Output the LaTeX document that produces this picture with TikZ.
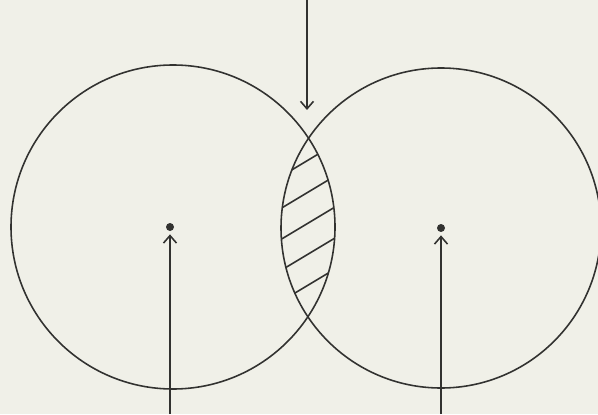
\documentclass[tikz,border=0pt]{standalone}
\usepackage{tikz}
\usetikzlibrary{arrows.meta, positioning, calc}
\definecolor{paper}{RGB}{240, 240, 232}
\definecolor{ink}{RGB}{50, 50, 48}

\begin{document}
\begin{tikzpicture}[
        ring/.style={draw=ink, line width=0.9pt, circle, inner sep=0pt},
        centre/.style={fill=ink, circle, inner sep=0pt, minimum size=1.6mm},
        pointer/.style={draw=ink, line width=0.9pt, -{Straight Barb[length=1.5mm, width=2.6mm]}},
        hatch/.style={draw=ink, line width=0.9pt},
    ]
        \fill[paper] (0,0) rectangle (11.96,8.28);
        \useasboundingbox (0,0) rectangle (11.96,8.28);

        % two overlapping circles
        \node[ring, minimum size=6.48cm] (left) at (3.46,3.74) {};
        \node[ring, minimum size=6.40cm] (right) at (8.82,3.72) {};

        % hatching of the common part
        \begin{scope}
            \clip (3.46,3.74) circle (3.24);
            \clip (8.82,3.72) circle (3.20);
            \foreach \y in {4.98, 4.34, 3.72, 3.10, 2.48} {
                \draw[hatch] (5.2,\y-0.48) -- (6.8,\y+0.48);
            }
        \end{scope}

        % centres
        \node[centre] (dotL) at (3.40,3.74) {};
        \node[centre] (dotR) at (8.82,3.72) {};

        % arrows
        \coordinate (topEnd) at (6.14,8.28);
        \coordinate (lensTop) at (6.14,6.08);
        \coordinate (footL) at (3.40,0);
        \coordinate (footR) at (8.82,0);
        \draw[pointer] (topEnd) -- (lensTop);
        \draw[pointer] (footL) -- ([yshift=-0.6mm]dotL.south);
        \draw[pointer] (footR) -- ([yshift=-0.6mm]dotR.south);
    \end{tikzpicture}
\end{document}
